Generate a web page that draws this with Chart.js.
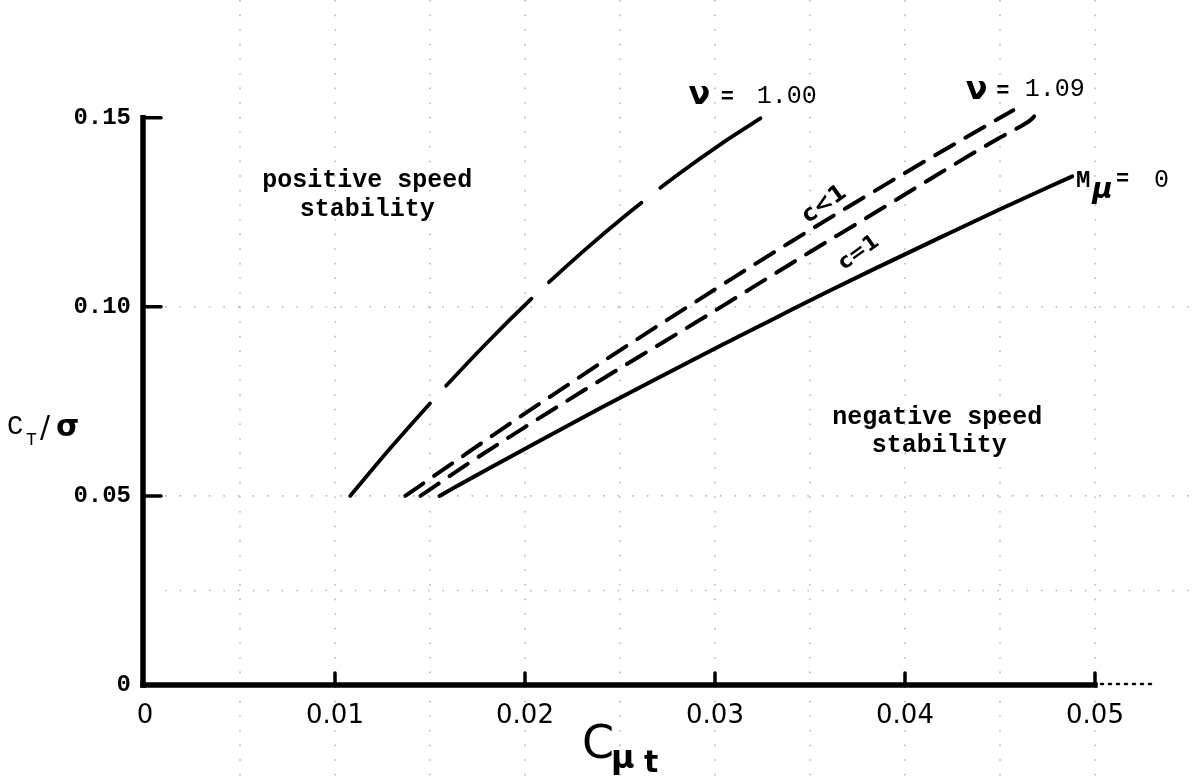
<!DOCTYPE html>
<html>
<head>
<meta charset="utf-8">
<script src="https://cdn.jsdelivr.net/npm/chart.js@4.4.1/dist/chart.umd.min.js"></script>
<style>
  html, body { margin: 0; padding: 0; background: #fff; }
  #wrap { position: relative; width: 1197px; height: 776px; }
</style>
</head>
<body>
<div id="wrap"><canvas id="c" width="1197" height="776"></canvas></div>
<script>
// Axis ticks
const xTickValues = [0, 0.01, 0.02, 0.03, 0.04, 0.05];
const xTickLabels = ['0', '0.01', '0.02', '0.03', '0.04', '0.05'];
const yTickValues = [0, 0.05, 0.10, 0.15];
const yTickLabels = ['0', '0.05', '0.10', '0.15'];

// Faint graph-paper rulings
const gridX = [0.005, 0.01, 0.015, 0.02, 0.025, 0.03, 0.035, 0.04, 0.045, 0.05];
const gridY = [0.025, 0.05, 0.10];

// nu = 1.00 (long dashes)
const nu100X = [0.0108, 0.0130, 0.0155, 0.0180, 0.0205, 0.0230, 0.0255, 0.0280, 0.0305, 0.0326];
const nu100Y = [0.0500, 0.0631, 0.0772, 0.0905, 0.1029, 0.1144, 0.1250, 0.1348, 0.1437, 0.1505];

// nu = 1.09, c < 1 (short dashes, upper)
const cLess1X = [0.0137, 0.0160, 0.0190, 0.0220, 0.0250, 0.0280, 0.0310, 0.0340, 0.0370, 0.0400, 0.0430, 0.0457];
const cLess1Y = [0.0500, 0.0580, 0.0684, 0.0785, 0.0885, 0.0982, 0.1078, 0.1172, 0.1264, 0.1354, 0.1442, 0.1520];

// nu = 1.09, c = 1 (short dashes, lower, curling up at its end)
const cEq1X = [0.0145, 0.0170, 0.0200, 0.0230, 0.0260, 0.0290, 0.0320, 0.0350, 0.0380, 0.0410, 0.0448, 0.0460, 0.0467, 0.0471];
const cEq1Y = [0.0500, 0.0585, 0.0682, 0.0776, 0.0868, 0.0959, 0.1052, 0.1145, 0.1236, 0.1328, 0.1442, 0.1475, 0.1498, 0.1525];

// M_mu = 0 (solid)
const mZeroX = [0.0155, 0.0180, 0.0210, 0.0240, 0.0270, 0.0300, 0.0330, 0.0360, 0.0390, 0.0420, 0.0450, 0.0488];
const mZeroY = [0.0500, 0.0570, 0.0652, 0.0733, 0.0812, 0.0890, 0.0966, 0.1042, 0.1115, 0.1187, 0.1258, 0.1345];

const pts = (xs, ys) => xs.map((x, i) => ({ x: x, y: ys[i] }));

const TYPE = '"Liberation Mono", "DejaVu Sans Mono", monospace';
const LETTER = '"DejaVu Sans", "Noto Sans", sans-serif';

function seg(ctx, x1, y1, x2, y2) {
  ctx.beginPath();
  ctx.moveTo(x1, y1);
  ctx.lineTo(x2, y2);
  ctx.stroke();
}

const decor = {
  id: 'decor',
  beforeDatasetsDraw(chart) {
    const ctx = chart.ctx;
    const xs = chart.scales.x, ys = chart.scales.y;
    const X = v => xs.getPixelForValue(v);
    const Y = v => ys.getPixelForValue(v);
    ctx.save();
    // faint dotted rulings
    ctx.strokeStyle = 'rgba(0,0,0,0.28)';
    ctx.lineWidth = 1.6;
    ctx.setLineDash([1.6, 13]);
    gridX.forEach(v => seg(ctx, X(v), 0, X(v), chart.height));
    gridY.forEach(v => seg(ctx, X(0) + 20, Y(v), chart.width, Y(v)));
    ctx.setLineDash([]);

    // heavy axes
    ctx.strokeStyle = '#000';
    ctx.lineCap = 'square';
    ctx.lineWidth = 5.5;
    seg(ctx, X(0) - 2, Y(0.15), X(0) - 2, Y(0));
    seg(ctx, X(0) - 2, Y(0), X(0.05), Y(0));
    ctx.lineCap = 'round';
    ctx.lineWidth = 3.5;
    yTickValues.slice(1).forEach(v => seg(ctx, X(0), Y(v), X(0) + 16, Y(v)));
    xTickValues.slice(1).forEach(v => seg(ctx, X(v), Y(0), X(v), Y(0) - 12));
    // dotted continuation past the last tick
    ctx.lineWidth = 2.5;
    ctx.setLineDash([2, 6]);
    seg(ctx, X(0.05) + 6, Y(0) - 1, X(0.05) + 58, Y(0) - 1);
    ctx.setLineDash([]);
    ctx.restore();
  },
  afterDatasetsDraw(chart) {
    const ctx = chart.ctx;
    const xs = chart.scales.x, ys = chart.scales.y;
    const X = v => xs.getPixelForValue(v);
    const Y = v => ys.getPixelForValue(v);
    ctx.save();
    ctx.fillStyle = '#000';
    ctx.textBaseline = 'alphabetic';

    // region notes
    ctx.font = 'bold 25px ' + TYPE;
    ctx.textAlign = 'center';
    ctx.fillText('positive speed', X(0.0117), Y(0.1318));
    ctx.fillText('stability', X(0.0117), Y(0.1240));
    ctx.fillText('negative speed', X(0.0417), Y(0.0690));
    ctx.fillText('stability', X(0.0418), Y(0.0617));

    // curve labels: nu = 1.00, nu = 1.09
    ctx.textAlign = 'left';
    ctx.font = 'bold 32px ' + LETTER;
    ctx.fillText('ν', X(0.0286), Y(0.1535));
    ctx.fillText('ν', X(0.0432), Y(0.1550));
    ctx.font = 'bold 22px ' + TYPE;
    ctx.fillText('=', X(0.0303), Y(0.1540));
    ctx.fillText('=', X(0.0448), Y(0.1555));
    ctx.font = '25px ' + TYPE;
    ctx.fillText('1.00', X(0.0322), Y(0.1540));
    ctx.fillText('1.09', X(0.0463), Y(0.1558));

    // M_mu = 0
    ctx.font = 'bold 24px ' + TYPE;
    ctx.fillText('M', X(0.0490), Y(0.1318));
    ctx.font = 'bold italic 28px ' + LETTER;
    ctx.fillText('μ', X(0.04985), Y(0.1288));
    ctx.font = 'bold 22px ' + TYPE;
    ctx.fillText('=', X(0.0511), Y(0.1322));
    ctx.font = '25px ' + TYPE;
    ctx.fillText('0', X(0.0531), Y(0.1318));

    // c<1 and c=1 along the dashed pair
    ctx.textAlign = 'center';
    ctx.save();
    ctx.translate(X(0.0357), Y(0.1275));
    ctx.rotate(-0.62);
    ctx.font = 'bold 23px ' + LETTER;
    ctx.fillText('c<1', 0, 8);
    ctx.restore();
    ctx.save();
    ctx.translate(X(0.0375), Y(0.1148));
    ctx.rotate(-0.62);
    ctx.font = 'bold 21px ' + LETTER;
    ctx.fillText('c=1', 0, 8);
    ctx.restore();

    // y axis title: C_T / sigma
    ctx.textAlign = 'left';
    ctx.font = '27px ' + TYPE;
    ctx.fillText('C', 7, 434);
    ctx.font = '18px ' + TYPE;
    ctx.fillText('T', 26, 445);
    ctx.font = '30px ' + LETTER;
    ctx.fillText('/', 40, 437);
    ctx.font = 'bold 30px ' + LETTER;
    ctx.fillText('σ', 56, 436);

    // x axis title: C_mu_t
    ctx.font = '46px ' + LETTER;
    ctx.fillText('C', 582, 758);
    ctx.font = 'bold 32px ' + LETTER;
    ctx.fillText('μ', 611, 768);
    ctx.font = 'bold 30px ' + LETTER;
    ctx.fillText('t', 644, 772);
    ctx.restore();
  }
};

const common = {
  showLine: true,
  pointRadius: 0,
  borderColor: '#000',
  backgroundColor: '#000',
  fill: false,
  cubicInterpolationMode: 'monotone',
  borderCapStyle: 'round'
};

new Chart(document.getElementById('c'), {
  type: 'scatter',
  data: {
    datasets: [
      Object.assign({ label: 'ν = 1.00', data: pts(nu100X, nu100Y), borderWidth: 3.8, borderDash: [122, 24] }, common),
      Object.assign({ label: 'c<1', data: pts(cLess1X, cLess1Y), borderWidth: 4, borderDash: [22, 13] }, common),
      Object.assign({ label: 'c=1', data: pts(cEq1X, cEq1Y), borderWidth: 4, borderDash: [22, 13] }, common),
      Object.assign({ label: 'M_μ = 0', data: pts(mZeroX, mZeroY), borderWidth: 4 }, common)
    ]
  },
  options: {
    responsive: false,
    devicePixelRatio: 1,
    animation: false,
    events: [],
    layout: { padding: { top: 61, right: 64, left: 0, bottom: 0 } },
    plugins: { legend: { display: false }, tooltip: { enabled: false } },
    scales: {
      x: {
        type: 'linear',
        min: 0,
        max: 0.052,
        grid: { display: false, drawTicks: false },
        border: { display: false },
        afterBuildTicks: s => { s.ticks = xTickValues.map(v => ({ value: v })); },
        afterFit: s => { s.height = 91; },
        ticks: {
          padding: 16,
          color: '#000',
          font: { family: LETTER, size: 26 },
          maxRotation: 0,
          callback: (v) => xTickLabels[xTickValues.indexOf(v)]
        }
      },
      y: {
        type: 'linear',
        min: 0,
        max: 0.165,
        grid: { display: false, drawTicks: false },
        border: { display: false },
        afterBuildTicks: s => { s.ticks = yTickValues.map(v => ({ value: v })); },
        afterFit: s => { s.width = 145; },
        ticks: {
          padding: 14,
          color: '#000',
          font: { family: TYPE, size: 24, weight: 'bold' },
          callback: (v) => yTickLabels[yTickValues.indexOf(v)]
        }
      }
    }
  },
  plugins: [decor]
});
</script>
</body>
</html>
